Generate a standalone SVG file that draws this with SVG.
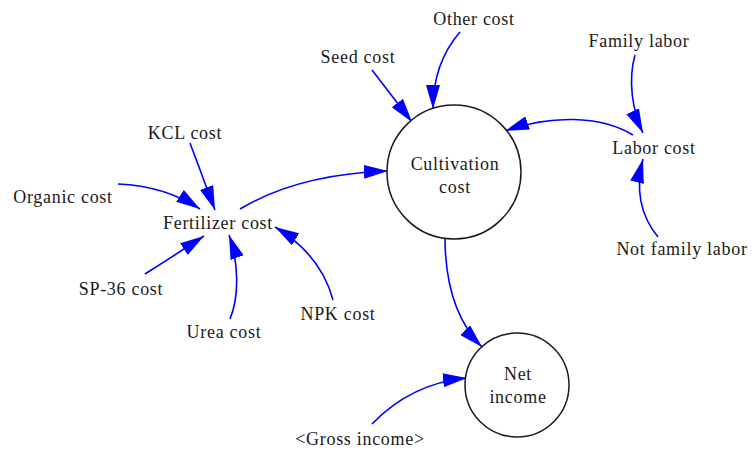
<svg xmlns="http://www.w3.org/2000/svg" width="752" height="452" viewBox="0 0 752 452">
  <style>
    text { font-family: "Liberation Serif", "Times New Roman", serif; font-size: 18px; fill: #1a1a1a; text-anchor: middle; letter-spacing: 0.7px; }
    .node-circle { fill: #ffffff; stroke: #1a1a1a; stroke-width: 1.5; }
    .link { fill: none; stroke: #0000ff; stroke-width: 1.6; marker-end: url(#arrow); }
  </style>
  <defs>
    <marker id="arrow" markerUnits="userSpaceOnUse" markerWidth="24" markerHeight="14" viewBox="0 0 24 14" refX="24" refY="7" orient="auto">
      <path d="M0,0 L24,7 L0,14 z" fill="#0000ff"/>
    </marker>
  </defs>
  <rect width="752" height="452" fill="#ffffff"/>

  <g id="connectors">
    <path class="link" d="M118,184 Q165,186 200,209"/>
    <path class="link" d="M190,143 L215,210"/>
    <path class="link" d="M145,274 Q175,255 204,236"/>
    <path class="link" d="M230,319 C240,295 238,260 229,235"/>
    <path class="link" d="M333,300 C325,270 305,245 275,227"/>
    <path class="link" d="M240,209 C280,185 330,173 388,171"/>
    <path class="link" d="M372,70 L412,122"/>
    <path class="link" d="M460,32 C440,55 433,80 433,109"/>
    <path class="link" d="M635,55 C628,80 632,110 643,133"/>
    <path class="link" d="M633,135 C600,115 550,115 505,131"/>
    <path class="link" d="M658,237 C640,215 635,190 643,159"/>
    <path class="link" d="M445,237 C445,280 455,320 482,347"/>
    <path class="link" d="M372,424 C395,400 425,382 467,378"/>
  </g>

  <g id="cultivation-cost">
    <circle class="node-circle" cx="454" cy="172" r="67"/>
    <text x="455" y="170">Cultivation</text>
    <text x="455" y="193">cost</text>
  </g>
  <g id="net-income">
    <circle class="node-circle" cx="517" cy="385" r="52"/>
    <text x="518" y="380">Net</text>
    <text x="518" y="403">income</text>
  </g>
  <g id="fertilizer-cost"><text x="218" y="229">Fertilizer cost</text></g>
  <g id="organic-cost"><text x="63" y="203">Organic cost</text></g>
  <g id="kcl-cost"><text x="185" y="139">KCL cost</text></g>
  <g id="sp36-cost"><text x="121" y="295">SP-36 cost</text></g>
  <g id="urea-cost"><text x="224" y="338">Urea cost</text></g>
  <g id="npk-cost"><text x="338" y="320">NPK cost</text></g>
  <g id="other-cost"><text x="474" y="25">Other cost</text></g>
  <g id="seed-cost"><text x="358" y="63">Seed cost</text></g>
  <g id="family-labor"><text x="639" y="47">Family labor</text></g>
  <g id="labor-cost"><text x="654" y="154">Labor cost</text></g>
  <g id="not-family-labor"><text x="682" y="255">Not family labor</text></g>
  <g id="gross-income"><text x="360" y="445">&lt;Gross income&gt;</text></g>
</svg>
